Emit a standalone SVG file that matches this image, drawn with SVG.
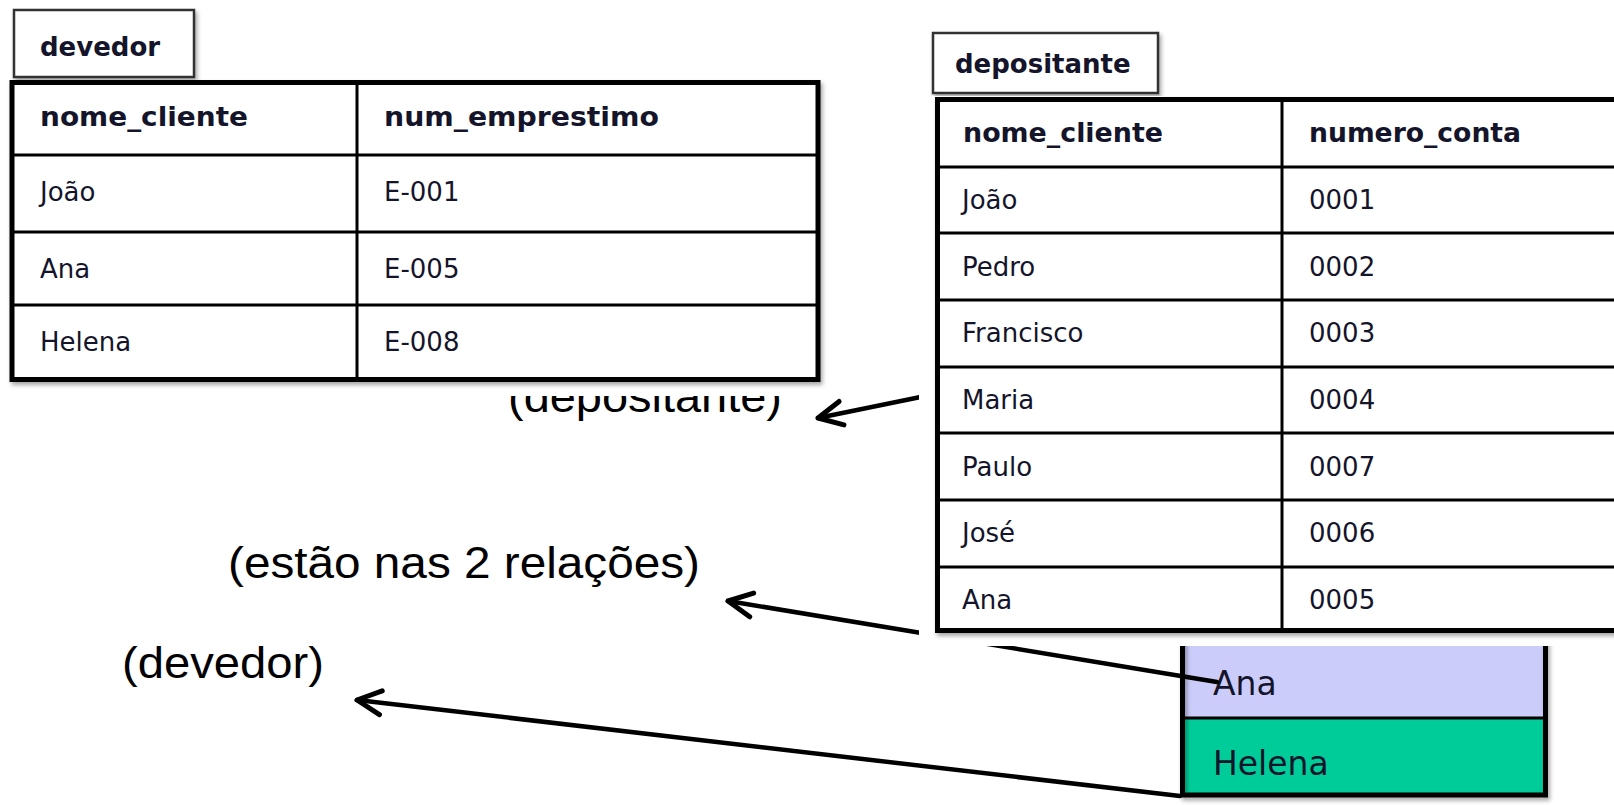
<svg xmlns="http://www.w3.org/2000/svg" width="1614" height="805" viewBox="0 0 1614 805">
  <defs>
    <style>
      .lbl { font-family: "DejaVu Sans", Verdana, sans-serif; font-weight: bold; font-size: 26px; fill: #14142a; }
      .hdr { font-family: "DejaVu Sans", Verdana, sans-serif; font-weight: bold; font-size: 26px; fill: #14142a; }
      .cell { font-family: "DejaVu Sans", Verdana, sans-serif; font-size: 26px; fill: #14142a; }
      .big { font-family: "DejaVu Sans", Verdana, sans-serif; font-size: 33px; fill: #14142a; }
      .note { font-family: "Liberation Sans", Arial, sans-serif; font-size: 45px; fill: #000; }
      .tab { fill: #fff; stroke: #000; stroke-width: 5; }
      .inner { stroke: #000; stroke-width: 3; }
      .labelbox { fill: #fff; stroke: #333; stroke-width: 2.5; }
      .conn { stroke: #000; stroke-width: 4.5; fill: none; stroke-linecap: round; }
    </style>
    <marker id="arr" markerUnits="userSpaceOnUse" viewBox="-30 -20 40 40" refX="0" refY="0" markerWidth="40" markerHeight="40" orient="auto" overflow="visible">
      <path d="M -24 -12 L 0 0 L -24 12" fill="none" stroke="#000" stroke-width="5" stroke-linecap="round" stroke-linejoin="round"/>
    </marker>
    <filter id="sh" x="-5%" y="-5%" width="110%" height="110%">
      <feDropShadow dx="2" dy="3" stdDeviation="2" flood-color="#000" flood-opacity="0.35"/>
    </filter>
  </defs>

  <!-- result table -->
  <g id="resultado">
    <rect x="1182.5" y="600" width="363" height="118" fill="#ccccfb"/>
    <rect x="1182.5" y="718" width="363" height="77" fill="#00cc99"/>
    <rect x="1182.5" y="600" width="363" height="195" fill="none" stroke="#000" stroke-width="5" filter="url(#sh)"/>
    <line x1="1182" y1="718" x2="1546" y2="718" class="inner"/>
    <text x="1213" y="695" class="big">Ana</text>
    <text x="1213" y="775" class="big">Helena</text>
  </g>

  <!-- connectors -->
  <g id="connectors">
    <path class="conn" d="M 945 392 L 818 418" marker-end="url(#arr)"/>
    <path class="conn" d="M 1217 682 L 728 601" marker-end="url(#arr)"/>
    <path class="conn" d="M 1180 796 L 357 700" marker-end="url(#arr)"/>
  </g>

  <!-- depositante table -->
  <g id="depositante">
    <rect x="919" y="97" width="700" height="549" fill="#fff"/>
    <rect x="933" y="33" width="225" height="60" class="labelbox" filter="url(#sh)"/>
    <text x="955" y="73" class="lbl">depositante</text>
    <rect x="937.5" y="99.5" width="700" height="531" class="tab" filter="url(#sh)"/>
    <line x1="1282" y1="99" x2="1282" y2="631" class="inner"/>
    <line x1="937" y1="167" x2="1614" y2="167" class="inner"/>
    <line x1="937" y1="233" x2="1614" y2="233" class="inner"/>
    <line x1="937" y1="300" x2="1614" y2="300" class="inner"/>
    <line x1="937" y1="367" x2="1614" y2="367" class="inner"/>
    <line x1="937" y1="433" x2="1614" y2="433" class="inner"/>
    <line x1="937" y1="500" x2="1614" y2="500" class="inner"/>
    <line x1="937" y1="567" x2="1614" y2="567" class="inner"/>
    <text x="963" y="142" class="hdr" textLength="200" lengthAdjust="spacingAndGlyphs">nome_cliente</text>
    <text x="1309" y="142" class="hdr" textLength="212" lengthAdjust="spacingAndGlyphs">numero_conta</text>
    <text x="962" y="209" class="cell">João</text>
    <text x="1309" y="209" class="cell">0001</text>
    <text x="962" y="276" class="cell">Pedro</text>
    <text x="1309" y="276" class="cell">0002</text>
    <text x="962" y="342" class="cell">Francisco</text>
    <text x="1309" y="342" class="cell">0003</text>
    <text x="962" y="409" class="cell">Maria</text>
    <text x="1309" y="409" class="cell">0004</text>
    <text x="962" y="476" class="cell">Paulo</text>
    <text x="1309" y="476" class="cell">0007</text>
    <text x="962" y="542" class="cell">José</text>
    <text x="1309" y="542" class="cell">0006</text>
    <text x="962" y="609" class="cell">Ana</text>
    <text x="1309" y="609" class="cell">0005</text>
  </g>

  <!-- annotations -->
  <g id="notas">
    <text x="508" y="412" class="note" textLength="274" lengthAdjust="spacingAndGlyphs">(depositante)</text>
    <text x="228" y="578" class="note" textLength="472" lengthAdjust="spacingAndGlyphs">(estão nas 2 relações)</text>
    <text x="122" y="678" class="note" textLength="202" lengthAdjust="spacingAndGlyphs">(devedor)</text>
  </g>

  <!-- devedor table -->
  <g id="devedor">
    <rect x="10" y="300" width="812" height="96" fill="#fff"/>
    <rect x="14" y="10" width="180" height="67" class="labelbox" filter="url(#sh)"/>
    <text x="40" y="56" class="lbl">devedor</text>
    <rect x="12" y="82.5" width="806" height="297" class="tab" filter="url(#sh)"/>
    <line x1="357" y1="82" x2="357" y2="380" class="inner"/>
    <line x1="12" y1="155" x2="818" y2="155" class="inner"/>
    <line x1="12" y1="232" x2="818" y2="232" class="inner"/>
    <line x1="12" y1="305" x2="818" y2="305" class="inner"/>
    <text x="40" y="126" class="hdr" textLength="208" lengthAdjust="spacingAndGlyphs">nome_cliente</text>
    <text x="384" y="126" class="hdr" textLength="275" lengthAdjust="spacingAndGlyphs">num_emprestimo</text>
    <text x="40" y="201" class="cell">João</text>
    <text x="384" y="201" class="cell">E-001</text>
    <text x="40" y="278" class="cell">Ana</text>
    <text x="384" y="278" class="cell">E-005</text>
    <text x="40" y="351" class="cell">Helena</text>
    <text x="384" y="351" class="cell">E-008</text>
  </g>
</svg>
